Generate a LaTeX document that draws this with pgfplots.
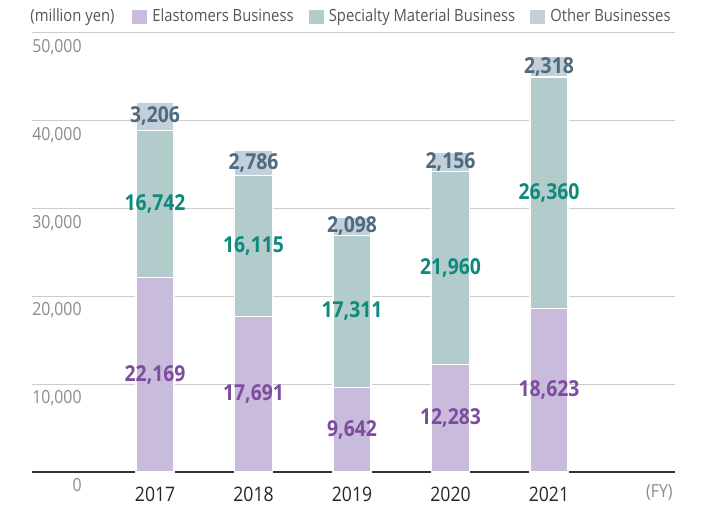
\documentclass[border=0pt]{standalone}
\usepackage{pgfplots}
\pgfplotsset{compat=1.18}
\usepackage{pgfplotstable}
\usepackage{fontspec}
\setmainfont{Open Sans}[FakeStretch=0.88]
\definecolor{elast}{HTML}{C9BBDB}
\definecolor{spec}{HTML}{B2CBCB}
\definecolor{other}{HTML}{C3D0DA}
\definecolor{elasttxt}{HTML}{7D4C9E}
\definecolor{spectxt}{HTML}{0E8A7D}
\definecolor{othertxt}{HTML}{4E6B80}
\definecolor{tickgrey}{HTML}{8A8A8A}
\definecolor{legtxt}{HTML}{555555}
\definecolor{gridgrey}{HTML}{CCCCCC}

% sales by segment, million yen
\pgfplotstableread{
x e s o
0 22169 16742 3206
1 17691 16115 2786
2 9642 17311 2098
3 12283 21960 2156
4 18623 26360 2318
}\sales

\begin{document}
\begin{tikzpicture}
\begin{axis}[
  name=ax, clip=false,
  scale only axis, width=321.5pt, height=219.5pt,
  ybar stacked, bar width=19pt,
  xmin=-1.25, xmax=5.28, ymin=0, ymax=50000,
  xtick={0,1,2,3,4}, xticklabels={2017,2018,2019,2020,2021},
  ytick={0,10000,20000,30000,40000,50000},
  scaled y ticks=false,
  /pgf/number format/assume math mode=true,
  /pgf/number format/.cd, fixed, precision=0, 1000 sep={,}, /pgfplots/.cd,
  major tick length=0pt,
  axis x line*=bottom, axis y line*=left,
  x axis line style={-, draw=black!80, line width=0.6pt},
  y axis line style={draw=none},
  ymajorgrids, grid style={gridgrey, line width=0.5pt},
  yticklabel style={anchor=north east, inner sep=0pt, xshift=25pt, yshift=-3pt,
    text=tickgrey, font=\fontsize{9}{10}\selectfont},
  xticklabel style={font=\fontsize{10}{12}\selectfont, text=black!85, yshift=-4pt},
  visualization depends on=rawy\as\seg,
  nodes near coords={\pgfmathprintnumber{\seg}},
  % stacked labels already sit mid-segment, only the anchor is needed
  every node near coord/.append style={anchor=center,
    font=\bfseries\fontsize{11}{13}\selectfont},
  legend columns=-1,
  legend style={draw=none, fill=none, at={(1,1)}, anchor=east, yshift=8pt,
    inner sep=0pt, font=\fontsize{8.4}{10}\selectfont, text=legtxt,
    /tikz/every even column/.append style={column sep=5pt}},
  legend image code/.code={\fill[#1] (0pt,-4pt) rectangle (8pt,4pt);},
]
\addplot[fill=elast, draw=white, line width=0.6pt,
  every node near coord/.append style={text=elasttxt}]
  table[x=x, y=e] {\sales};
\addlegendentry{Elastomers Business}
\addplot[fill=spec, draw=white, line width=0.6pt,
  every node near coord/.append style={text=spectxt}]
  table[x=x, y=s] {\sales};
\addlegendentry{Specialty Material Business}
\addplot[fill=other, draw=white, line width=0.6pt,
  every node near coord/.append style={text=othertxt}]
  table[x=x, y=o] {\sales};
\addlegendentry{Other Businesses}
\node[anchor=west, inner sep=0pt, xshift=-1pt, yshift=8pt, text=legtxt,
  font=\fontsize{8.4}{10}\selectfont] at (rel axis cs:0,1) {(million yen)};
\node[anchor=east, inner sep=0pt, xshift=-1pt, yshift=-10.5pt, text=tickgrey,
  font=\fontsize{9}{10}\selectfont] at (rel axis cs:1,0) {(FY)};
\end{axis}
\pgfresetboundingbox
\path ([shift={(-16pt,-16.5pt)}]ax.south west) rectangle ([shift={(16pt,16.5pt)}]ax.north east);
\end{tikzpicture}
\end{document}
